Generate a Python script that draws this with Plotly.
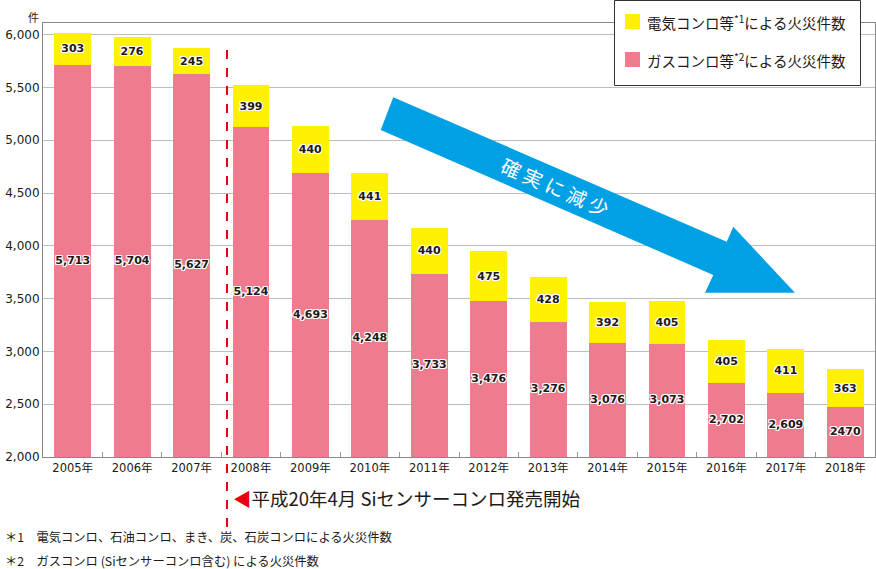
import plotly.graph_objects as go

years = ["2005年", "2006年", "2007年", "2008年", "2009年", "2010年", "2011年",
         "2012年", "2013年", "2014年", "2015年", "2016年", "2017年", "2018年"]
gas_fires = [5713, 5704, 5627, 5124, 4693, 4248, 3733, 3476, 3276, 3076, 3073, 2702, 2609, 2470]
elec_fires = [303, 276, 245, 399, 440, 441, 440, 475, 428, 392, 405, 405, 411, 363]
gas_labels = [f"{v:,}" for v in gas_fires[:-1]] + [str(gas_fires[-1])]
elec_labels = [str(v) for v in elec_fires]
y_ticks = [2000, 2500, 3000, 3500, 4000, 4500, 5000, 5500, 6000]
Y_MIN, Y_MAX = 2000, 6110
legend_names = ["電気コンロ等<sup>*1</sup>による火災件数", "ガスコンロ等<sup>*2</sup>による火災件数"]

FONT = "Noto Sans CJK JP, Noto Sans, sans-serif"
NUMFONT = "DejaVu Sans, Noto Sans CJK JP, sans-serif"
PINK = "#EE7B8E"
YELLOW = "#FFF100"
BLUE = "#00A0E4"
RED = "#E60012"
TXT = "#231815"
outline = ("1px 1px 0 #fff, -1px -1px 0 #fff, 1px -1px 0 #fff, -1px 1px 0 #fff, "
           "0 1px 0 #fff, 0 -1px 0 #fff, 1px 0 0 #fff, -1px 0 0 #fff")

# plot area in pixels
L, R, T, B = 43, 875, 23, 457
W, H = 876, 569


def px(x, y):
    return (x - L) / (R - L), (B - y) / (B - T)


label_font = dict(size=11, color=TXT, shadow=outline, family=NUMFONT, weight="bold")

fig = go.Figure()
fig.add_trace(go.Bar(
    x=years, y=gas_fires, name=legend_names[1],
    marker=dict(color=PINK, line=dict(width=0)), width=0.62,
    showlegend=False, hoverinfo="skip",
))
fig.add_trace(go.Bar(
    x=years, y=elec_fires, name=legend_names[0],
    marker=dict(color=YELLOW, line=dict(width=0)), width=0.62,
    text=elec_labels, textposition="inside", insidetextanchor="middle",
    textangle=0, constraintext="none", textfont=label_font,
    showlegend=False, hoverinfo="skip",
))
# labels of the gas segments, centred on the visible part of each bar
fig.add_trace(go.Scatter(
    x=years, y=[(Y_MIN + v) / 2 for v in gas_fires], mode="text",
    text=gas_labels, textposition="middle center", textfont=label_font,
    showlegend=False, hoverinfo="skip",
))

# Blue arrow
pts = [(393.3, 97.3), (726.7, 241.7), (733.3, 226.7), (795, 292.7),
       (705, 292.7), (713.3, 275), (380.7, 130)]
path = "M " + " L ".join(f"{px(a, b)[0]:.4f},{px(a, b)[1]:.4f}" for a, b in pts) + " Z"


def rect(x0, y0, x1, y1, **kw):
    a = px(x0, y0)
    b = px(x1, y1)
    return dict(type="rect", xref="paper", yref="paper", x0=a[0], y0=a[1],
                x1=b[0], y1=b[1], layer="above", **kw)


shapes = [
    dict(type="path", xref="paper", yref="paper", path=path,
         fillcolor=BLUE, line=dict(width=0), layer="above"),
    dict(type="line", xref="paper", yref="paper",
         x0=px(227, 0)[0], x1=px(227, 0)[0], y0=px(0, 50)[1], y1=px(0, 533)[1],
         line=dict(color=RED, width=2, dash="dash"), layer="above"),
    # legend box
    rect(614.5, 0.5, 860.5, 85.5, fillcolor="white", line=dict(color="#333", width=1)),
    rect(625, 14, 640, 29, fillcolor=YELLOW, line=dict(width=0)),
    rect(625, 52, 640, 67, fillcolor=PINK, line=dict(width=0)),
]

annotations = [
    dict(text="確 実 に 減 少", x=px(555, 186)[0], y=px(555, 186)[1],
         xref="paper", yref="paper", showarrow=False, textangle=23.5,
         font=dict(size=19.5, color="white", family=FONT)),
    dict(text=f"<span style='color:{RED}'>◀</span>平成20年4月 Siセンサーコンロ発売開始",
         x=px(231, 0)[0], y=px(0, 498)[1], xref="paper", yref="paper",
         xanchor="left", yanchor="middle", showarrow=False,
         font=dict(size=18.5, color=TXT, family=FONT)),
    dict(text="＊1　電気コンロ、石油コンロ、まき、炭、石炭コンロによる火災件数",
         x=px(3, 0)[0], y=px(0, 537)[1], xref="paper", yref="paper",
         xanchor="left", yanchor="middle", showarrow=False,
         font=dict(size=12.3, color=TXT, family=FONT)),
    dict(text="＊2　ガスコンロ (Siセンサーコンロ含む) による火災件数",
         x=px(3, 0)[0], y=px(0, 560.5)[1], xref="paper", yref="paper",
         xanchor="left", yanchor="middle", showarrow=False,
         font=dict(size=12.3, color=TXT, family=FONT)),
    dict(text="件", x=px(33, 0)[0], y=px(0, 17)[1], xref="paper", yref="paper",
         xanchor="center", yanchor="middle", showarrow=False,
         font=dict(size=11, color=TXT, family=FONT)),
    dict(text=legend_names[0], x=px(645, 0)[0], y=px(0, 22)[1], xref="paper", yref="paper",
         xanchor="left", yanchor="middle", showarrow=False,
         font=dict(size=14.5, color=TXT, family=FONT)),
    dict(text=legend_names[1], x=px(645, 0)[0], y=px(0, 60)[1], xref="paper", yref="paper",
         xanchor="left", yanchor="middle", showarrow=False,
         font=dict(size=14.5, color=TXT, family=FONT)),
]

fig.update_layout(
    width=W, height=H,
    margin=dict(l=L, r=W - R, t=T, b=H - B, pad=0, autoexpand=False),
    barmode="stack",
    plot_bgcolor="white", paper_bgcolor="white",
    font=dict(family=FONT, color=TXT),
    shapes=shapes, annotations=annotations,
    showlegend=False,
    xaxis=dict(
        type="category", range=[-0.5, 13.5],
        showline=True, linecolor="#888", linewidth=1, mirror=True,
        ticks="inside", tickson="boundaries", ticklen=5, tickcolor="#999",
        tickfont=dict(size=11.5, color=TXT, family=NUMFONT),
        showgrid=False, fixedrange=True, automargin=False,
    ),
    yaxis=dict(
        range=[Y_MIN, Y_MAX], tickvals=y_ticks,
        ticktext=[f"{v:,}" for v in y_ticks],
        showline=True, linecolor="#888", linewidth=1, mirror=True,
        showgrid=True, gridcolor="#BDBDBD", gridwidth=1,
        ticks="", tickfont=dict(size=12, color=TXT, family=NUMFONT),
        zeroline=False, fixedrange=True, automargin=False,
    ),
)

fig.write_html(
    "out.html",
    config={"displayModeBar": False},
    post_script="document.body.style.margin='0';document.body.style.overflow='hidden';",
)
